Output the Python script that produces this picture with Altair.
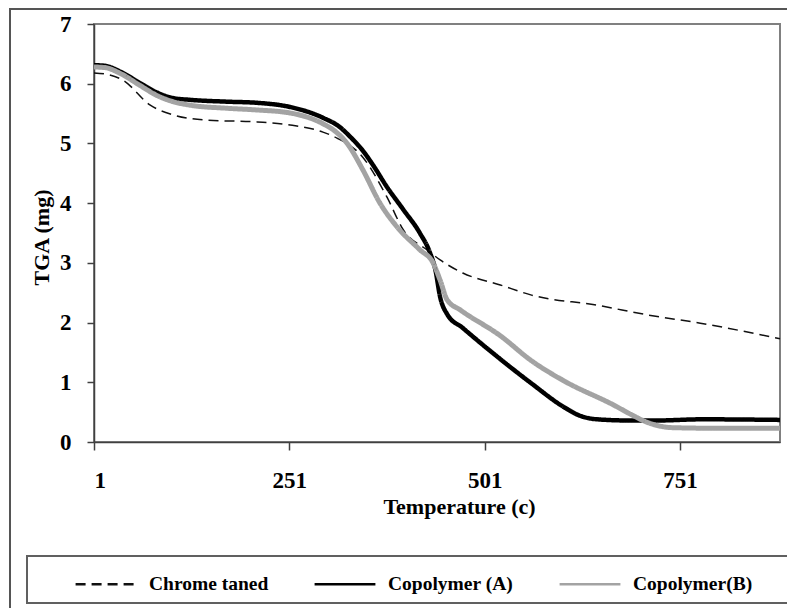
import altair as alt
import pandas as pd

series_names = ["Chrome taned", "Copolymer (A)", "Copolymer(B)"]

chrome_t = [1, 20, 38, 73, 102, 146, 210, 252, 294, 312, 345, 376, 397, 427, 444, 473, 521, 561, 645, 709, 777, 879]
chrome_v = [6.18, 6.15, 6.06, 5.64, 5.48, 5.39, 5.36, 5.31, 5.19, 5.09, 4.77, 4.10, 3.55, 3.22, 3.05, 2.83, 2.63, 2.46, 2.29, 2.13, 1.99, 1.73]

a_t = [1, 15, 35, 60, 82, 102, 124, 170, 210, 252, 294, 315, 329, 345, 358, 376, 397, 418, 431, 438, 444, 453, 473, 491, 518, 561, 603, 623, 645, 687, 721, 779, 879]
a_v = [6.31, 6.30, 6.20, 6.01, 5.85, 5.76, 5.73, 5.70, 5.68, 5.61, 5.43, 5.28, 5.11, 4.88, 4.64, 4.27, 3.89, 3.50, 3.17, 2.88, 2.43, 2.14, 1.91, 1.71, 1.42, 0.98, 0.58, 0.44, 0.38, 0.36, 0.36, 0.38, 0.37]

b_t = [1, 15, 35, 60, 82, 102, 124, 170, 210, 252, 294, 310, 325, 345, 367, 389, 418, 435, 444, 453, 470, 521, 561, 603, 666, 690, 709, 742, 800, 879]
b_v = [6.28, 6.27, 6.17, 5.97, 5.80, 5.70, 5.64, 5.59, 5.56, 5.51, 5.33, 5.20, 5.00, 4.56, 4.00, 3.60, 3.22, 3.00, 2.71, 2.38, 2.21, 1.78, 1.36, 1.02, 0.62, 0.45, 0.33, 0.24, 0.23, 0.23]

line_widths = [1.5, 4.5, 5]
x_ticks = [1, 251, 501, 751]
y_ticks = [0, 1, 2, 3, 4, 5, 6, 7]

rows = []
for name, ts, vs in zip(series_names, [chrome_t, a_t, b_t], [chrome_v, a_v, b_v]):
    for t, v in zip(ts, vs):
        rows.append({"T": t, "mg": v, "series": name})
df = pd.DataFrame(rows)

FONT = "Liberation Serif"

leg = alt.Legend(
    title=None,
    orient="none",
    legendX=-20,
    legendY=528,
    direction="horizontal",
    columnPadding=40,
    symbolType="stroke",
    symbolSize=3700,
    symbolStrokeWidth=2.5,
    labelFont=FONT,
    labelFontWeight="bold",
    labelFontSize=19.5,
    labelColor="#000000",
    labelOffset=11,
    labelLimit=300,
)

base = alt.Chart(df).mark_line(interpolate="monotone").encode(
    x=alt.X("T:Q",
            scale=alt.Scale(domain=[1, 879], nice=False, zero=False),
            axis=alt.Axis(values=x_ticks, format="d", title="Temperature (c)",
                          tickSize=8, labelPadding=19,
                          titleX=365, titleY=71, titleBaseline="alphabetic",
                          titleAlign="center", titleAnchor="start")),
    y=alt.Y("mg:Q",
            scale=alt.Scale(domain=[0, 7], nice=False),
            axis=alt.Axis(values=y_ticks, title="TGA (mg)", tickSize=7,
                          labelPadding=16, titleX=-53, titleY=213,
                          titleAngle=270, titleAlign="center",
                          titleBaseline="middle", titleAnchor="start")),
    color=alt.Color("series:N",
                    scale=alt.Scale(domain=series_names,
                                    range=["#111111", "#000000", "#a3a3a3"]),
                    legend=leg),
    strokeDash=alt.StrokeDash("series:N",
                              scale=alt.Scale(domain=series_names,
                                              range=[[10, 6], [1, 0], [1, 0]]),
                              legend=leg),
)

line_layers = [
    base.transform_filter(alt.datum.series == n).mark_line(interpolate="monotone", strokeWidth=w)
    for n, w in zip(series_names, line_widths)
]

one = pd.DataFrame({"k": [0]})
frame = alt.Chart(one).mark_rect(fillOpacity=0, stroke="#555555", strokeWidth=2).encode(
    x=alt.value(-84), x2=alt.value(720), y=alt.value(-15), y2=alt.value(620)
)
legbox = alt.Chart(one).mark_rect(fillOpacity=0, stroke="#606060", strokeWidth=2).encode(
    x=alt.value(-67), x2=alt.value(720), y=alt.value(532), y2=alt.value(579)
)

chart = alt.layer(frame, legbox, *line_layers).properties(
    width=686,
    height=418,
    padding={"left": 86, "top": 16, "right": 7, "bottom": 166},
    autosize=alt.AutoSizeParams(type="none"),
    background="#ffffff",
).configure_view(
    stroke="#808080", strokeWidth=2
).configure_axis(
    grid=False,
    domainColor="#404040",
    domainWidth=1.5,
    tickColor="#404040",
    tickWidth=1.5,
    labelFont=FONT,
    labelFontWeight="bold",
    labelFontSize=23,
    labelColor="#000000",
    titleFont=FONT,
    titleFontWeight="bold",
    titleFontSize=22,
    titleColor="#000000",
)

chart.save("out.html", embed_options={"renderer": "svg", "actions": False})
